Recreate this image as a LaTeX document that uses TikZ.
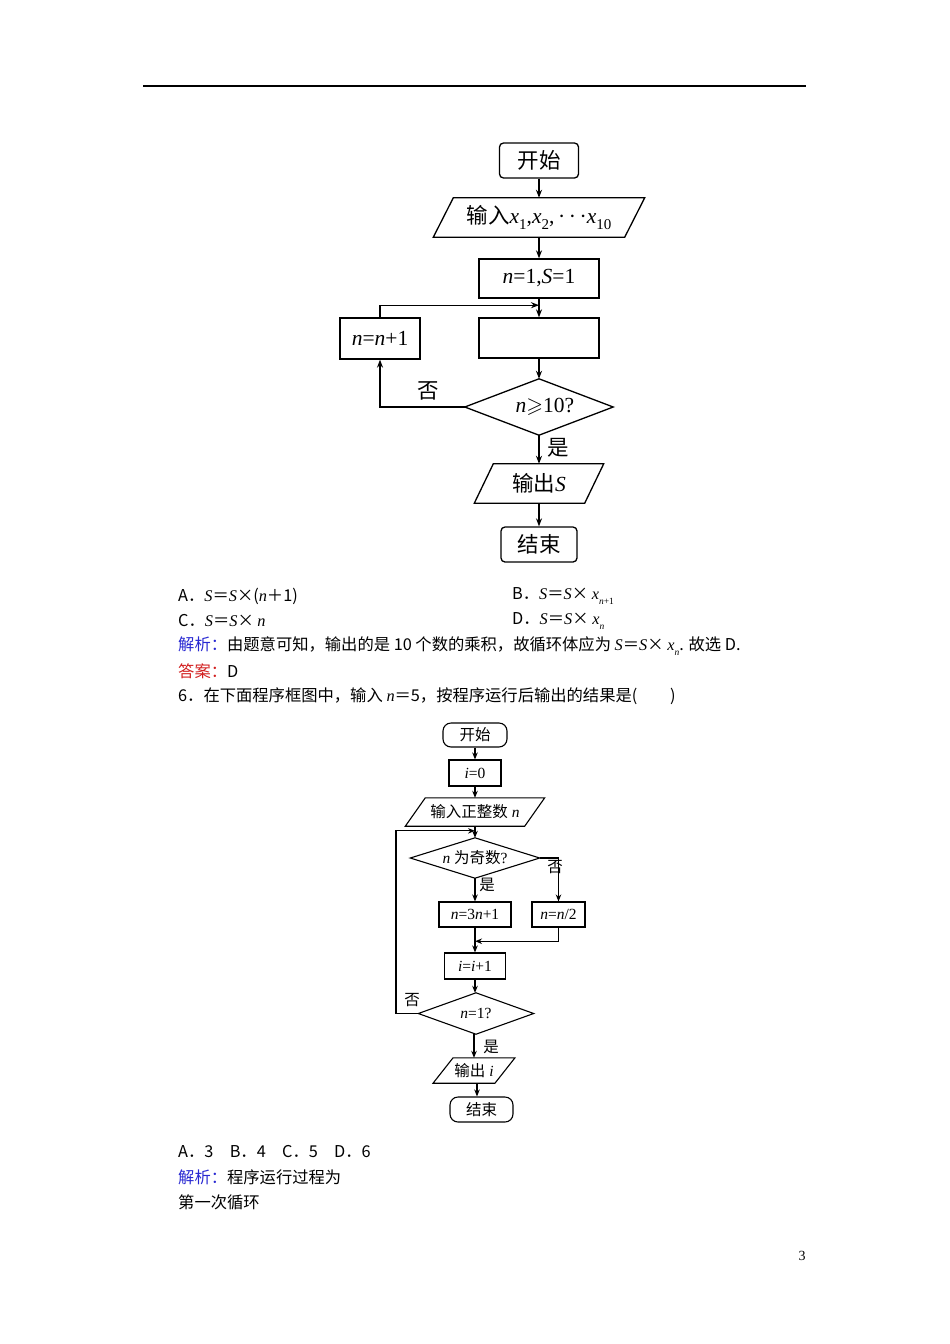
\documentclass[tikz,border=0pt]{standalone}
\usepackage{fontspec}
\usepackage{amssymb}
\setmainfont{Liberation Serif}
\newfontfamily\cjk{Noto Sans CJK SC}
\usetikzlibrary{arrows.meta,calc}
\definecolor{jblue}{RGB}{40,40,210}
\definecolor{ared}{RGB}{210,30,30}
\newcommand\mi[1]{{\rmfamily\itshape #1}}
\newcommand\sbig[1]{\raisebox{-0.25em}{\fontsize{15}{15}\selectfont #1}}
\newcommand\ssm[1]{\raisebox{-0.3em}{\fontsize{9.5}{9.5}\selectfont\rmfamily #1}}
\begin{document}
\begin{tikzpicture}[x=1pt,y=-1pt,
  ln1/.style={line width=1.3pt},
  ln2/.style={line width=1.1pt},
  arr1/.style={ln1,-{Stealth[length=8pt,width=6pt]}},
  arr2/.style={ln2,-{Stealth[length=7pt,width=5.5pt]}},
  f1/.style={font=\fontsize{21.5}{25}\selectfont},
  f2/.style={font=\fontsize{15.5}{18}\selectfont},
  box1/.style={draw,ln1,f1,inner sep=0pt},
  term1/.style={box1,rounded corners=4pt},
  ghost1/.style={f1,inner sep=0pt},
  box2/.style={draw,ln2,f2,inner sep=0pt},
  term2/.style={box2,rounded corners=8pt},
  ghost2/.style={f2,inner sep=0pt},
  lab1/.style={f1,inner sep=0pt},
  lab2/.style={f2,inner sep=0pt},
  body/.style={anchor=west,inner sep=0pt,font=\cjk\fontsize{16.3}{19}\selectfont},
]
\useasboundingbox (0,0) rectangle (950,1344);
\fill[white] (0,0) rectangle (950,1344);
% top rule
\coordinate (r1) at (143,86);
\coordinate (r2) at (806,86);
\draw[line width=1.2pt] (r1) -- (r2);

% ---------- chart 1 ----------
\node[term1,minimum width=79,minimum height=35] (s1) at (539,160.5) {\cjk 开始};
\node[ghost1,minimum width=191,minimum height=39] (in1) at (539,217.5)
  {{\cjk 输入}\mi{x}\sbig{1},\mi{x}\sbig{2},\,·\,·\,·\mi{x}\sbig{10}};
\draw[ln1] ([xshift=10]in1.north west) -- ([xshift=10]in1.north east)
  -- ([xshift=-10]in1.south east) -- ([xshift=-10]in1.south west) -- cycle;
\node[box1,minimum width=120,minimum height=39] (ns1) at (539,278.5) {\mi{n}=1,\mi{S}=1};
\node[box1,minimum width=120,minimum height=40] (p1) at (539,338) {};
\node[box1,minimum width=80,minimum height=41] (nn1) at (380,338.5) {\mi{n}=\mi{n}+1};
\node[ghost1,minimum width=148,minimum height=56] (d1) at (539,407)
  {\hspace{12pt}\mi{n}$\geqslant$10?};
\draw[ln1] (d1.north) -- (d1.east) -- (d1.south) -- (d1.west) -- cycle;
\node[ghost1,minimum width=110,minimum height=39] (o1) at (539,483.5) {{\cjk 输出}\mi{S}};
\draw[ln1] ([xshift=9.5]o1.north west) -- ([xshift=9.5]o1.north east)
  -- ([xshift=-9.5]o1.south east) -- ([xshift=-9.5]o1.south west) -- cycle;
\node[term1,minimum width=76,minimum height=35] (e1) at (539,544.5) {\cjk 结束};

\draw[arr1] (s1.south) -- (in1.north);
\draw[arr1] (in1.south) -- (ns1.north);
\draw[arr1] (ns1.south) -- (p1.north);
\coordinate (j1) at ($(ns1.south)!0.35!(p1.north)$);
\draw[arr1] (nn1.north) |- (j1);
\draw[arr1] (p1.south) -- (d1.north);
\draw[arr1] (d1.west) -| (nn1.south);
\draw[arr1] (d1.south) -- (o1.north);
\draw[arr1] (o1.south) -- (e1.north);
\node[lab1] (no1) at (428,391) {\cjk 否};
\node[lab1] (yes1) at (558,448) {\cjk 是};

% ---------- texts ----------
\node[body] (tA) at (178,596) {A．\mi{S}＝\mi{S}×(\mi{n}＋1)};
\node[body] (tB) at (512,596) {B．\mi{S}＝\mi{S}× \mi{x}\ssm{\itshape n\upshape+1}};
\node[body] (tC) at (178,621) {C．\mi{S}＝\mi{S}× \mi{n}};
\node[body] (tD) at (512,621) {D．\mi{S}＝\mi{S}× \mi{x}\ssm{\itshape n}};
\node[body] (tJ) at (178,646) {{\color{jblue}解析：}由题意可知，输出的是 10 个数的乘积，故循环体应为 \mi{S}＝\mi{S}× \mi{x}\ssm{\itshape n}. 故选 D.};
\node[body] (tK) at (178,671) {{\color{ared}答案：}D};
\node[body] (tQ) at (178,696) {6．在下面程序框图中，输入 \mi{n}＝5，按程序运行后输出的结果是(\hspace{2em})};

% ---------- chart 2 ----------
\node[term2,minimum width=64,minimum height=24] (s2) at (475,735) {\cjk 开始};
\node[box2,minimum width=52,minimum height=26] (i0) at (475,773) {\mi{i}=0};
\node[ghost2,minimum width=119,minimum height=28] (in2) at (475,812) {{\cjk 输入正整数} \mi{n}};
\draw[ln2] ([xshift=10]in2.north west) -- ([xshift=10]in2.north east)
  -- ([xshift=-10]in2.south east) -- ([xshift=-10]in2.south west) -- cycle;
\node[ghost2,minimum width=129,minimum height=40] (d21) at (475,858) {\mi{n} {\cjk 为奇数}?};
\draw[ln2] (d21.north) -- (d21.east) -- (d21.south) -- (d21.west) -- cycle;
\node[box2,minimum width=72,minimum height=25] (a2) at (475,914.5) {\mi{n}=3\mi{n}+1};
\node[box2,minimum width=53,minimum height=25] (b2) at (558.5,914.5) {\mi{n}=\mi{n}/2};
\node[box2,minimum width=61,minimum height=26] (ii2) at (475,966) {\mi{i}=\mi{i}+1};
\node[ghost2,minimum width=115,minimum height=41] (d22) at (476,1013.5) {\mi{n}=1?};
\draw[ln2] (d22.north) -- (d22.east) -- (d22.south) -- (d22.west) -- cycle;
\node[ghost2,minimum width=61.5,minimum height=25] (o2) at (474,1070.5) {{\cjk 输出} \mi{i}};
\draw[ln2] ([xshift=10]o2.north west) -- ([xshift=10]o2.north east)
  -- ([xshift=-10]o2.south east) -- ([xshift=-10]o2.south west) -- cycle;
\node[term2,minimum width=63,minimum height=25] (e2) at (481.5,1109.5) {\cjk 结束};

\draw[arr2] (s2.south) -- (i0.north);
\draw[arr2] (i0.south) -- (in2.north);
\draw[arr2] (in2.south) -- (d21.north);
\coordinate (j2) at ($(in2.south)!0.4!(d21.north)$);
\coordinate (L2) at (396,0);
\draw[arr2] (d22.west) -- (d22.west -| L2) -- (L2 |- j2) -- (j2);
\draw[arr2] (d21.east) -| (b2.north);
\draw[arr2] (d21.south) -- (a2.north);
\coordinate (k2) at ($(a2.south)!0.55!(ii2.north)$);
\draw[arr2] (b2.south) |- (k2);
\draw[arr2] (a2.south) -- (ii2.north);
\draw[arr2] (ii2.south) -- (ii2.south |- d22.north);
\draw[arr2] (d22.south -| o2.north) -- (o2.north);
\draw[arr2] (o2.south -| 477,0) -- (477,0 |- e2.north);
\node[lab2] (no21) at (555,867) {\cjk 否};
\node[lab2] (yes21) at (487,885) {\cjk 是};
\node[lab2] (no22) at (412,1000) {\cjk 否};
\node[lab2] (yes22) at (491,1047) {\cjk 是};

% ---------- bottom text ----------
\node[body] (tA2) at (178,1152) {A．3　B．4　C．5　D．6};
\node[body] (tJ2) at (178,1177) {{\color{jblue}解析：}程序运行过程为};
\node[body] (tL) at (178,1202) {第一次循环};
\node[inner sep=0pt,font=\fontsize{14}{16}\selectfont] (pg) at (802,1256) {3};
\end{tikzpicture}
\end{document}
